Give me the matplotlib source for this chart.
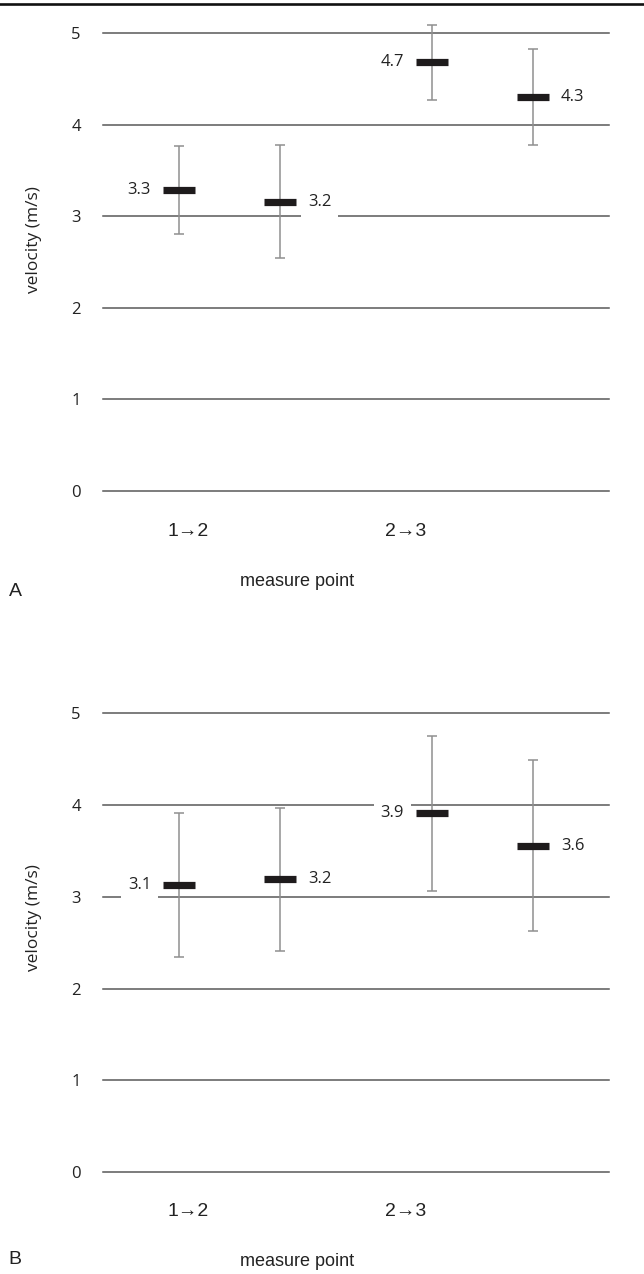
import matplotlib
matplotlib.use("Agg")
import matplotlib.pyplot as plt
from matplotlib.lines import Line2D

# ---- data ----
categories = ["1\u21922", "2\u21923"]
positions = [0.6, 1.4, 2.6, 3.4]
cat_positions = [0.67, 2.39]
yticks = [0, 1, 2, 3, 4, 5]

a_means = [3.29, 3.16, 4.68, 4.30]
a_errs = [0.48, 0.62, 0.41, 0.52]
a_labels = ["3.3", "3.2", "4.7", "4.3"]

b_means = [3.13, 3.19, 3.91, 3.56]
b_errs = [0.79, 0.78, 0.85, 0.93]
b_labels = ["3.1", "3.2", "3.9", "3.6"]

label_sides = ["left", "right", "left", "right"]

W, H = 644, 1274
fig = plt.figure(figsize=(W / 100, H / 100), dpi=100)

VAL_FONT = ["Open Sans", "DejaVu Sans"]
ARIAL = ["Liberation Sans", "DejaVu Sans"]


def panel(top_px, bottom_px, means, errs, labels, letter, ylab_y, xlab_y, letter_y, tick_y):
    ax = fig.add_axes([103 / W, 1 - bottom_px / H, 506 / W, (bottom_px - top_px) / H])
    ax.set_xlim(0, 4)
    ax.set_ylim(0, 5)
    for s in ax.spines.values():
        s.set_visible(False)
    ax.set_yticks(yticks)
    ax.set_yticklabels([str(t) for t in yticks], fontfamily=VAL_FONT, fontsize=12, color="#222222")
    ax.tick_params(axis="y", length=0, pad=16)
    ax.set_xticks([])
    for t in yticks:
        ax.axhline(t, color="#595959", lw=1.1, zorder=1, clip_on=False)
    ax.errorbar(positions, means, yerr=errs, fmt="none", ecolor="#8f8f8f",
                elinewidth=1.1, capsize=3.4, capthick=1.1, zorder=3, clip_on=False)
    ax.plot(positions, means, linestyle="none", marker="_", markersize=23,
            markeredgewidth=5.2, color="#1e1b1c", zorder=4, clip_on=False)
    for x, m, lab, side in zip(positions, means, labels, label_sides):
        off = -20 if side == "left" else 20
        ha = "right" if side == "left" else "left"
        ax.annotate(lab, xy=(x, m), xytext=(off, 0), textcoords="offset points",
                    ha=ha, va="center", fontsize=12, fontfamily=VAL_FONT, color="#222222",
                    zorder=2,
                    bbox=dict(boxstyle="square,pad=0.43", fc="white", ec="none"))
    for cx, cat in zip(cat_positions, categories):
        fig.text((103 + cx / 4 * 506) / W, 1 - tick_y / H, cat, ha="center", va="center",
                 fontsize=14, fontfamily=ARIAL, color="#222222")
    fig.text(34 / W, 1 - ylab_y / H, "velocity (m/s)", rotation=90, ha="center", va="center",
             fontsize=12.5, fontfamily=VAL_FONT, color="#222222")
    fig.text(297 / W, 1 - xlab_y / H, "measure point", ha="center", va="center",
             fontsize=13, fontfamily=ARIAL, color="#222222")
    fig.text(15 / W, 1 - letter_y / H, letter, ha="center", va="center",
             fontsize=14, fontfamily=ARIAL, color="#222222")
    return ax


panel(33, 491, a_means, a_errs, a_labels, "A", 240, 582, 592, 531)
panel(713.5, 1172, b_means, b_errs, b_labels, "B", 918, 1262, 1260, 1212)

fig.add_artist(Line2D([0, 1], [1 - 4 / H, 1 - 4 / H], transform=fig.transFigure,
                      color="#111111", lw=1.9))

fig.savefig("out.png", dpi=100, facecolor="white")
